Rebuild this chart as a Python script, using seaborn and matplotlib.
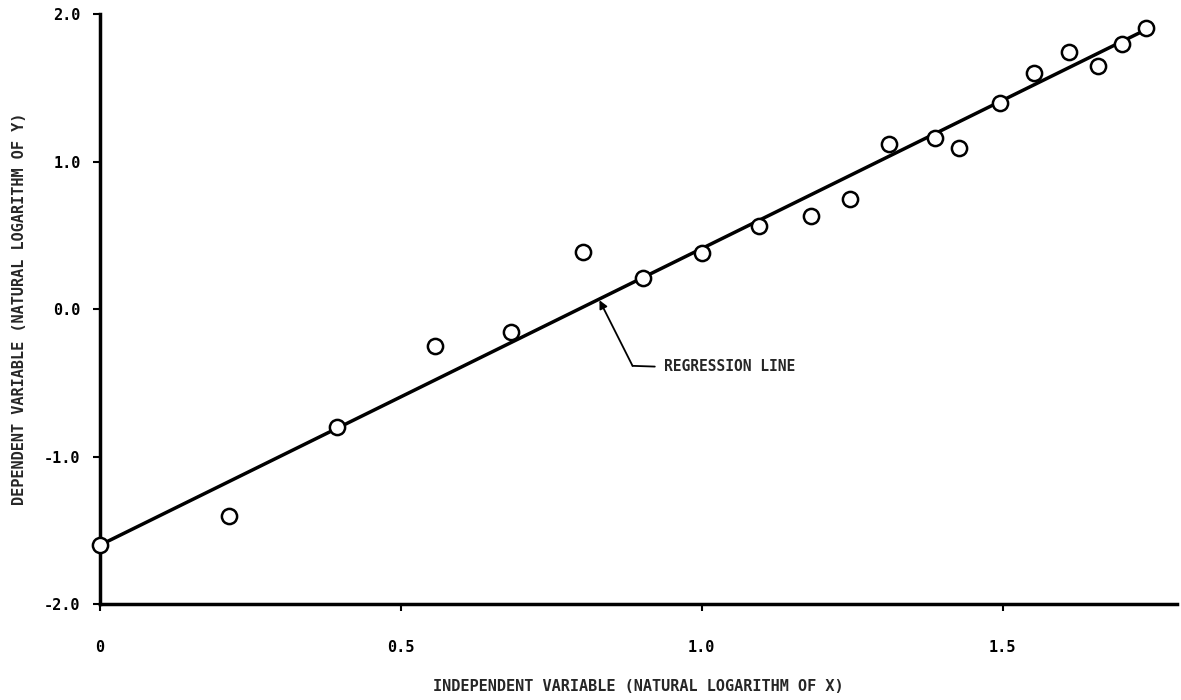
import matplotlib
matplotlib.use("Agg")
import matplotlib.pyplot as plt
import seaborn as sns
import pandas as pd
import numpy as np

# data
ln_x = [0.0, 0.214, 0.393, 0.556, 0.683, 0.803, 0.902, 1.0, 1.095, 1.181,
        1.246, 1.311, 1.388, 1.427, 1.495, 1.553, 1.61, 1.658, 1.698, 1.739]
ln_y = [-1.6, -1.40, -0.80, -0.25, -0.156, 0.39, 0.21, 0.38, 0.563, 0.63,
        0.746, 1.12, 1.16, 1.09, 1.40, 1.60, 1.74, 1.65, 1.80, 1.905]
line_intercept = -1.6
line_slope = 2.01
line_x_range = [0.0, 1.75]
x_ticks = [0, 0.5, 1.0, 1.5]
x_tick_labels = ["0", "0.5", "1.0", "1.5"]
y_ticks = [-2.0, -1.0, 0.0, 1.0, 2.0]
y_tick_labels = ["-2.0", "-1.0", "0.0", "1.0", "2.0"]

sns.set_style("white")
plt.rcParams["font.family"] = ["DejaVu Sans Mono"]
plt.rcParams["font.weight"] = "bold"

points = pd.DataFrame({"x": ln_x, "y": ln_y})
line = pd.DataFrame({"x": line_x_range})
line["y"] = line_intercept + line_slope * line["x"]

fig = plt.figure(figsize=(11.81, 7), dpi=100)
ax = fig.add_axes([0.0847, 0.137, 0.912, 0.843])

sns.lineplot(data=line, x="x", y="y", color="black", linewidth=2.5, ax=ax, zorder=2)
sns.scatterplot(data=points, x="x", y="y", s=120, facecolor="white",
                edgecolor="black", linewidth=1.8, ax=ax, zorder=3, clip_on=False)

# annotation for regression line
ax.annotate("", xy=(0.83, 0.06), xytext=(0.885, -0.385),
            arrowprops=dict(arrowstyle="-|>", color="black", lw=1.3,
                            mutation_scale=12, shrinkA=0, shrinkB=0))
ax.plot([0.885, 0.922], [-0.385, -0.39], color="black", lw=1.3)
ax.text(0.938, -0.39, "REGRESSION LINE", fontsize=10.5, fontweight="bold",
        va="center", ha="left")

ax.set_xlim(0, 1.79)
ax.set_ylim(-2, 2)
ax.set_xticks(x_ticks)
ax.set_xticklabels(x_tick_labels)
ax.set_yticks(y_ticks)
ax.set_yticklabels(y_tick_labels)
ax.tick_params(axis="both", direction="out", length=5, width=1.5,
               labelsize=11, colors="black", bottom=True, left=True)
ax.tick_params(axis="x", pad=21)
ax.tick_params(axis="y", pad=9)

sns.despine(ax=ax)
for side in ["left", "bottom"]:
    ax.spines[side].set_linewidth(2.5)
    ax.spines[side].set_color("black")

ax.set_xlabel("INDEPENDENT VARIABLE (NATURAL LOGARITHM OF X)", fontsize=11,
              fontweight="bold", labelpad=17)
ax.set_ylabel("DEPENDENT VARIABLE (NATURAL LOGARITHM OF Y)", fontsize=11,
              fontweight="bold", labelpad=12)

fig.savefig("out.png", dpi=100)
